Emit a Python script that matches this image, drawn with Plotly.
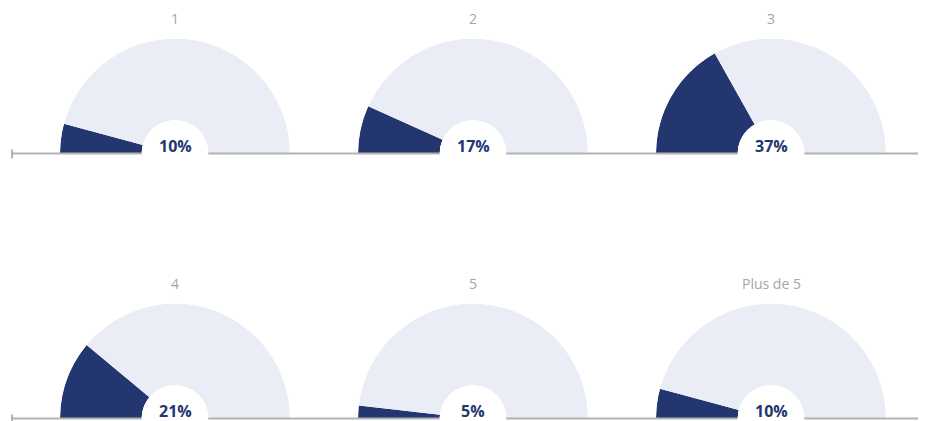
import plotly.graph_objects as go

# groups and values
groups = ["1", "2", "3", "4", "5", "Plus de 5"]
pct_labels = ["10%", "17%", "37%", "21%", "5%", "10%"]
arc_share = [8.3, 13.5, 33.7, 22.1, 3.6, 8.3]  # share of the half circle

DARK = "#233670"
LIGHT = "#EBEDF6"
GREY_LINE = "#B3B3B3"
GREY_TEXT = "#A6A6A6"

# the page body adds an 8px margin, so the figure sits 8px in from the corner
OFF = 8
W, H = 926 - OFF, 421 - OFF
R = 115
HOLE_R = 33.3
centers_x = [175, 473, 771]
baselines_y = [153.5, 418.5]


def px_x(x):
    return (x - OFF) / W


def px_y(y):
    return (H - (y - OFF)) / H


fig = go.Figure()
layout_polars = {}
annotations = []
shapes = []

# baselines with a small tick at the left end
for b in baselines_y:
    shapes.append(dict(type="line", xref="paper", yref="paper",
                       x0=px_x(12), x1=1, y0=px_y(b), y1=px_y(b),
                       line=dict(color=GREY_LINE, width=2), layer="above"))
    shapes.append(dict(type="line", xref="paper", yref="paper",
                       x0=px_x(12), x1=px_x(12), y0=px_y(b - 4), y1=px_y(b + 5),
                       line=dict(color=GREY_LINE, width=2), layer="above"))

for i, (name, label, share) in enumerate(zip(groups, pct_labels, arc_share)):
    cx = centers_x[i % 3]
    b = baselines_y[i // 3]
    key = "polar" if i == 0 else f"polar{i + 1}"
    span = share * 1.8
    fig.add_trace(go.Barpolar(
        r=[1, 1],
        theta=[span / 2, (span + 180) / 2],
        width=[span, 180 - span],
        marker=dict(color=[DARK, LIGHT], line=dict(width=0)),
        subplot=key,
        showlegend=False,
        hoverinfo="skip",
    ))
    layout_polars[key] = dict(
        domain=dict(x=[px_x(cx - R), px_x(cx + R)], y=[max(px_y(b), 0), px_y(b - R)]),
        sector=[0, 180],
        hole=HOLE_R / R,
        bgcolor="rgba(0,0,0,0)",
        radialaxis=dict(visible=False, range=[0, 1]),
        angularaxis=dict(visible=False, rotation=180, direction="clockwise"),
    )
    # white disc in the middle, covering the baseline
    shapes.append(dict(type="circle", xref="paper", yref="paper",
                       x0=px_x(cx - HOLE_R), x1=px_x(cx + HOLE_R),
                       y0=px_y(b + HOLE_R), y1=px_y(b - HOLE_R),
                       fillcolor="white", line=dict(width=0), layer="above"))
    annotations.append(dict(text=f"<b>{label}</b>", x=px_x(cx), y=px_y(b - 8),
                            xref="paper", yref="paper", showarrow=False,
                            xanchor="center", yanchor="middle",
                            font=dict(family="Open Sans", size=16, color=DARK)))
    annotations.append(dict(text=name, x=px_x(cx), y=px_y(b - 135.5),
                            xref="paper", yref="paper", showarrow=False,
                            xanchor="center", yanchor="middle",
                            font=dict(family="Open Sans", size=14, color=GREY_TEXT)))

fig.update_layout(
    width=W, height=H,
    margin=dict(l=0, r=0, t=0, b=0),
    paper_bgcolor="white",
    plot_bgcolor="white",
    shapes=shapes,
    annotations=annotations,
    **layout_polars,
)

fig.write_html("out.html")
